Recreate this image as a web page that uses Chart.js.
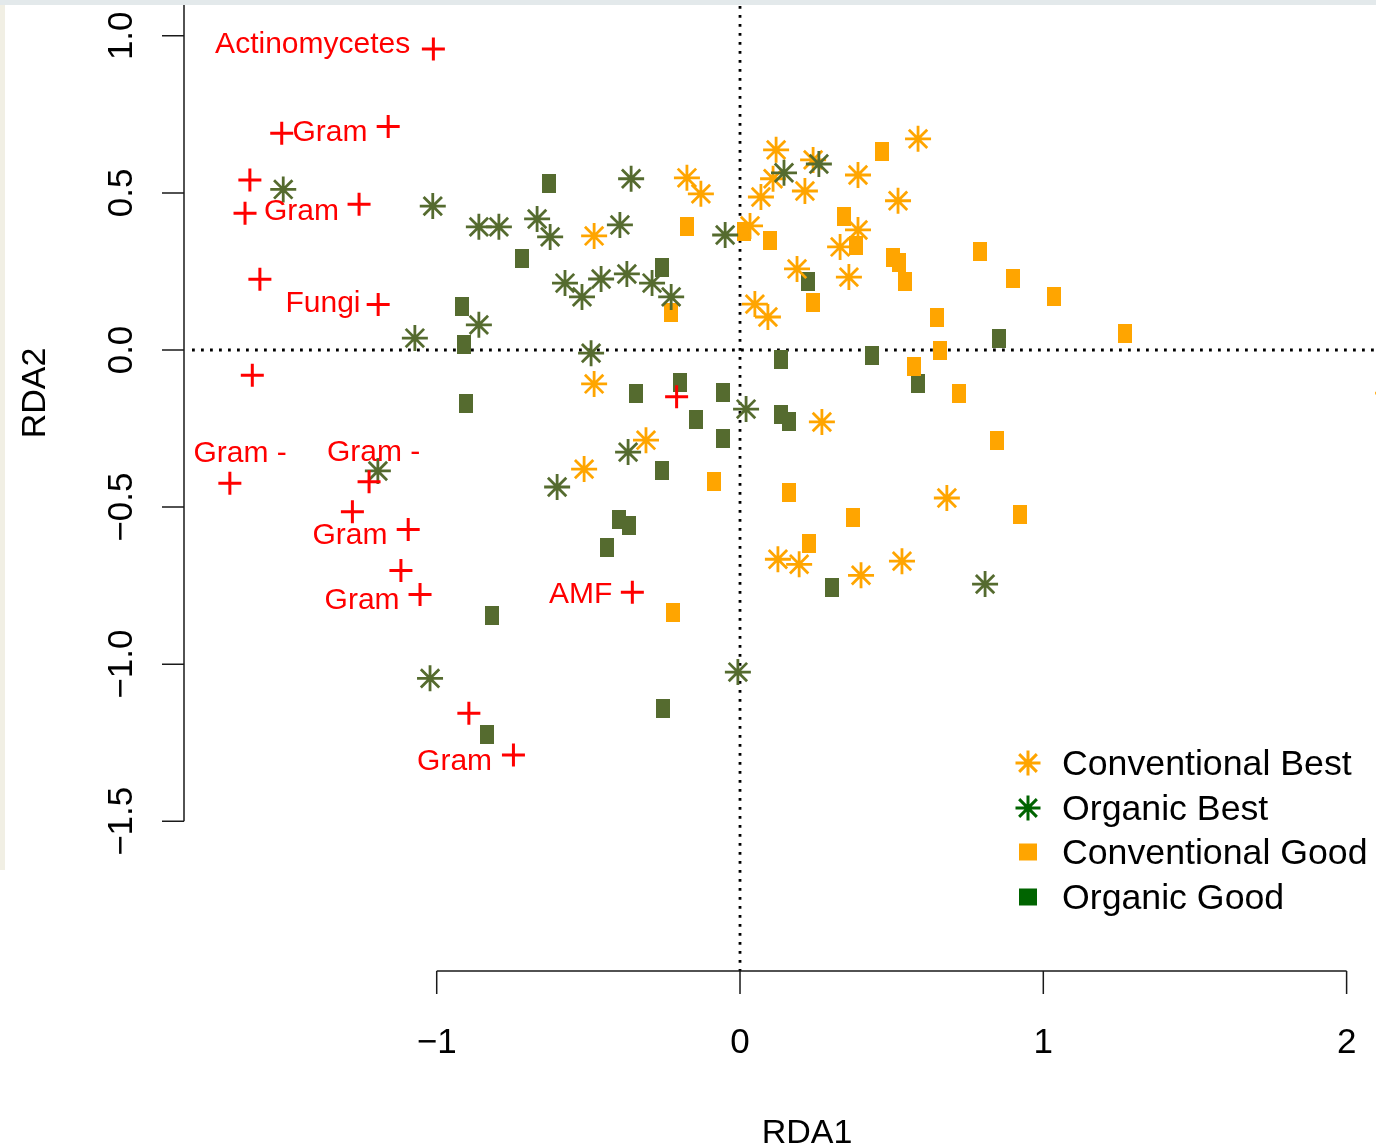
<!DOCTYPE html>
<html>
<head>
<meta charset="utf-8">
<script src="https://cdn.jsdelivr.net/npm/chart.js@4.4.1/dist/chart.umd.min.js"></script>
<style>
  html, body { margin: 0; padding: 0; background: #fff; }
  #rda_chart { display: block; }
</style>
</head>
<body>
<canvas id="rda_chart" width="1376" height="1146"></canvas>
<script>
// site scores [RDA1, RDA2]
const conv_best = [
  [-0.481, 0.363], [-0.175, 0.548], [-0.129, 0.497], [0.033, 0.395], [0.119, 0.637],
  [0.109, 0.545], [0.069, 0.487], [0.241, 0.605], [0.214, 0.506], [0.389, 0.557],
  [0.587, 0.672], [0.521, 0.475], [0.389, 0.382], [0.330, 0.328], [0.188, 0.258],
  [0.359, 0.232], [0.049, 0.146], [0.092, 0.105], [-0.481, -0.108], [0.270, -0.229],
  [-0.310, -0.287], [-0.514, -0.379], [0.682, -0.471], [0.125, -0.666], [0.195, -0.682],
  [0.399, -0.717], [0.534, -0.672], [2.137, -0.137]
];
const organic_best = [
  [-1.506, 0.511], [-1.013, 0.458], [-1.072, 0.038], [-0.861, 0.392], [-0.795, 0.392],
  [-0.669, 0.417], [-0.626, 0.360], [-0.359, 0.545], [-0.396, 0.398], [-0.577, 0.213],
  [-0.521, 0.169], [-0.458, 0.226], [-0.373, 0.242], [-0.290, 0.213], [-0.227, 0.169],
  [-0.861, 0.080], [-0.491, -0.010], [-0.049, 0.366], [0.145, 0.564], [0.260, 0.592],
  [0.020, -0.188], [-0.369, -0.325], [-0.603, -0.436], [-1.194, -0.385], [-1.022, -1.045],
  [-0.007, -1.025], [0.808, -0.745]
];
const conv_good = [
  [-0.175, 0.392], [0.013, 0.376], [0.099, 0.347], [-0.227, 0.118], [0.468, 0.631],
  [0.343, 0.424], [0.382, 0.331], [0.504, 0.293], [0.524, 0.280], [0.544, 0.217],
  [0.241, 0.150], [0.650, 0.105], [0.659, -0.003], [0.574, -0.054], [0.791, 0.312],
  [0.900, 0.226], [1.035, 0.169], [1.269, 0.054], [0.722, -0.140], [0.847, -0.287],
  [0.923, -0.525], [-0.086, -0.420], [0.162, -0.455], [0.373, -0.532], [0.227, -0.615],
  [-0.221, -0.834]
];
const organic_good = [
  [-0.630, 0.529], [-0.719, 0.290], [-0.917, 0.140], [-0.910, 0.016], [-0.257, 0.264],
  [0.224, 0.217], [0.135, -0.029], [0.435, -0.016], [0.587, -0.108], [0.854, 0.038],
  [-0.903, -0.169], [-0.343, -0.137], [-0.198, -0.102], [-0.056, -0.134], [-0.145, -0.220],
  [0.135, -0.204], [0.162, -0.229], [-0.056, -0.283], [-0.257, -0.382], [-0.399, -0.541],
  [-0.366, -0.557], [-0.439, -0.627], [0.303, -0.755], [-0.818, -0.844], [-0.254, -1.140],
  [-0.834, -1.223]
];

// species scores (red crosses) and their labels
const species_pts = [
  [-1.011, 0.958], [-1.511, 0.690], [-1.160, 0.711], [-1.616, 0.541], [-1.632, 0.435],
  [-1.256, 0.464], [-1.583, 0.225], [-1.193, 0.145], [-1.608, -0.080], [-0.209, -0.149],
  [-1.682, -0.424], [-1.223, -0.419], [-1.278, -0.515], [-1.094, -0.571], [-1.118, -0.702],
  [-1.055, -0.778], [-0.355, -0.771], [-0.894, -1.156], [-0.747, -1.289]
];
const label_text = ["Actinomycetes", "Gram", "Gram", "Fungi", "Gram -", "Gram -", "Gram", "Gram", "AMF", "Gram"];
const label_x = [-1.409, -1.352, -1.446, -1.375, -1.648, -1.208, -1.286, -1.246, -0.525, -0.941];
const label_y = [0.944, 0.665, 0.414, 0.121, -0.355, -0.352, -0.617, -0.824, -0.805, -1.337];

// axes
const x_ticks = [-1, 0, 1, 2];
const x_tick_labels = ["\u22121", "0", "1", "2"];
const y_ticks = [-1.5, -1.0, -0.5, 0.0, 0.5, 1.0, 1.5];
const y_tick_labels = ["\u22121.5", "\u22121.0", "\u22120.5", "0.0", "0.5", "1.0", "1.5"];

const legend_labels = ["Conventional Best", "Organic Best", "Conventional Good", "Organic Good"];
const legend_colors = ["#FFA500", "#006400", "#FFA500", "#006400"];
const legend_shapes = ["star", "star", "rect", "rect"];

const FONT = "'Liberation Sans', Arial, sans-serif";
const ORANGE = "#FFA500";
const OLIVE = "#556B2F";

function to_xy(arr) {
  return arr.map((p) => ({ x: p[0], y: p[1] }));
}

// filled rectangle used as point style (R squares came out taller than wide)
function make_rect(color, w, h) {
  const c = document.createElement("canvas");
  c.width = w;
  c.height = h;
  const g = c.getContext("2d");
  g.fillStyle = color;
  g.fillRect(0, 0, w, h);
  return c;
}

const r_style = {
  id: "r_style",
  beforeDraw(chart) {
    const ctx = chart.ctx;
    ctx.save();
    ctx.fillStyle = "#fff";
    ctx.fillRect(0, 0, chart.width, chart.height);
    ctx.restore();
  },
  beforeDatasetsDraw(chart) {
    const ctx = chart.ctx;
    const area = chart.chartArea;
    const xs = chart.scales.x;
    const ys = chart.scales.y;
    ctx.save();
    ctx.strokeStyle = "#000";
    ctx.lineWidth = 2.8;
    ctx.setLineDash([2.8, 6.2]);
    const y0 = ys.getPixelForValue(0);
    ctx.beginPath();
    ctx.moveTo(area.left + 8, y0);
    ctx.lineTo(area.right, y0);
    ctx.stroke();
    const x0 = xs.getPixelForValue(0);
    ctx.beginPath();
    ctx.moveTo(x0, area.top + 6);
    ctx.lineTo(x0, area.bottom);
    ctx.stroke();
    ctx.restore();
  },
  afterDatasetsDraw(chart) {
    const ctx = chart.ctx;
    const xs = chart.scales.x;
    const ys = chart.scales.y;
    ctx.save();
    ctx.fillStyle = "#FF0000";
    ctx.font = "30px " + FONT;
    ctx.textAlign = "center";
    ctx.textBaseline = "alphabetic";
    for (let i = 0; i < label_text.length; i++) {
      ctx.fillText(label_text[i], xs.getPixelForValue(label_x[i]), ys.getPixelForValue(label_y[i]));
    }
    ctx.restore();
  },
  afterDraw(chart) {
    const ctx = chart.ctx;
    const area = chart.chartArea;
    const xs = chart.scales.x;
    const ys = chart.scales.y;
    ctx.save();

    // axis lines and ticks, R style (detached)
    ctx.strokeStyle = "#1a1a1a";
    ctx.lineWidth = 1.5;
    ctx.beginPath();
    ctx.moveTo(area.left, ys.getPixelForValue(y_ticks[0]));
    ctx.lineTo(area.left, ys.getPixelForValue(y_ticks[y_ticks.length - 1]));
    for (const t of y_ticks) {
      const py = ys.getPixelForValue(t);
      ctx.moveTo(area.left - 22, py);
      ctx.lineTo(area.left, py);
    }
    ctx.moveTo(xs.getPixelForValue(x_ticks[0]), area.bottom);
    ctx.lineTo(xs.getPixelForValue(x_ticks[x_ticks.length - 1]), area.bottom);
    for (const t of x_ticks) {
      const px = xs.getPixelForValue(t);
      ctx.moveTo(px, area.bottom);
      ctx.lineTo(px, area.bottom + 23);
    }
    ctx.stroke();

    ctx.fillStyle = "#000";
    ctx.font = "35px " + FONT;
    ctx.textAlign = "center";
    ctx.textBaseline = "alphabetic";
    for (let i = 0; i < x_ticks.length; i++) {
      ctx.fillText(x_tick_labels[i], xs.getPixelForValue(x_ticks[i]), area.bottom + 82);
    }
    for (let i = 0; i < y_ticks.length; i++) {
      ctx.save();
      ctx.translate(area.left - 52, ys.getPixelForValue(y_ticks[i]));
      ctx.rotate(-Math.PI / 2);
      ctx.fillText(y_tick_labels[i], 0, 0);
      ctx.restore();
    }

    // axis titles
    ctx.font = "34px " + FONT;
    ctx.fillText("RDA1", 807, 1143);
    ctx.save();
    ctx.translate(45, 393);
    ctx.rotate(-Math.PI / 2);
    ctx.fillText("RDA2", 0, 0);
    ctx.restore();

    // legend
    const rows = [763, 808, 852, 897];
    ctx.font = "35.7px " + FONT;
    ctx.textAlign = "left";
    for (let i = 0; i < legend_labels.length; i++) {
      const cy = rows[i];
      ctx.strokeStyle = legend_colors[i];
      ctx.fillStyle = legend_colors[i];
      if (legend_shapes[i] === "star") {
        ctx.lineWidth = 3;
        Chart.helpers.drawPoint(ctx, { pointStyle: "star", radius: 12.5, rotation: 0, borderWidth: 3 }, 1028, cy);
      } else {
        ctx.fillRect(1028 - 9, cy - 8.5, 18, 17);
      }
      ctx.fillStyle = "#000";
      ctx.fillText(legend_labels[i], 1062, cy + 12);
    }

    // frame bits from the screenshot
    ctx.fillStyle = "#e3e9eb";
    ctx.fillRect(0, 0, chart.width, 5);
    ctx.fillStyle = "#f1efe4";
    ctx.fillRect(0, 5, 5, 865);
    ctx.restore();
  },
};

const rda_ctx = document.getElementById("rda_chart");

const rda_chart = new Chart(rda_ctx, {
  type: "scatter",
  data: {
    datasets: [
      {
        label: "Species",
        data: to_xy(species_pts),
        pointStyle: "cross",
        pointRadius: 11.5,
        pointBorderWidth: 3,
        pointBorderColor: "#FF0000",
        order: 0,
      },
      {
        label: legend_labels[1],
        data: to_xy(organic_best),
        pointStyle: "star",
        pointRadius: 13,
        pointBorderWidth: 2.8,
        pointBorderColor: OLIVE,
        order: 1,
      },
      {
        label: legend_labels[0],
        data: to_xy(conv_best),
        pointStyle: "star",
        pointRadius: 13,
        pointBorderWidth: 2.8,
        pointBorderColor: ORANGE,
        order: 2,
      },
      {
        label: legend_labels[2],
        data: to_xy(conv_good),
        pointStyle: make_rect(ORANGE, 14, 19),
        order: 3,
      },
      {
        label: legend_labels[3],
        data: to_xy(organic_good),
        pointStyle: make_rect(OLIVE, 14, 19),
        order: 4,
      },
    ],
  },
  options: {
    responsive: false,
    animation: false,
    devicePixelRatio: 1,
    events: [],
    layout: {
      autoPadding: false,
      padding: { left: 184, right: 0, top: 0, bottom: 175 },
    },
    plugins: {
      legend: { display: false },
      tooltip: { enabled: false },
    },
    scales: {
      x: { type: "linear", display: false, min: -1.8332, max: 2.0969 },
      y: { type: "linear", display: false, min: -1.9764, max: 1.1139 },
    },
  },
  plugins: [r_style],
});
</script>
</body>
</html>
